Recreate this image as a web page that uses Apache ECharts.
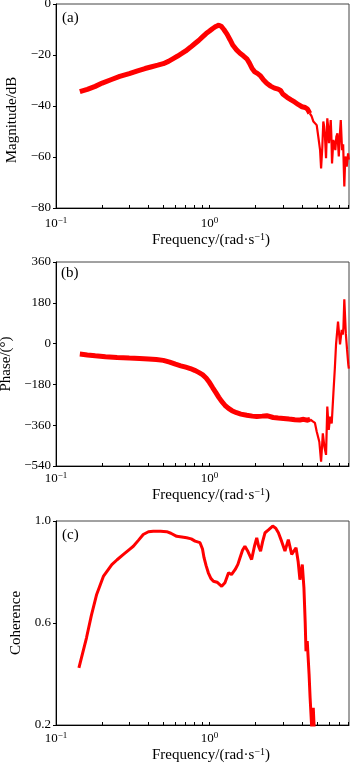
<!DOCTYPE html>
<html><head><meta charset="utf-8">
<script src="https://cdn.jsdelivr.net/npm/echarts@6/dist/echarts.min.js"></script>
<style>html,body{margin:0;padding:0;background:#fff}#c{width:350px;height:766px}</style>
</head><body><div id="c"></div>
<script>
// ---------- data ----------
const xTickValues = [0.1,0.2,0.3,0.4,0.5,0.6,0.7,0.8,0.9,1,2,3,4,5,6,7,8];
const xLabelValues = [0.1, 1];

// (a) magnitude
const magFreqSmooth = [0.143,0.16,0.18,0.20,0.23,0.26,0.30,0.34,0.38,0.42,0.46,0.50,0.54,0.58,0.62,0.66,0.70,0.75,0.80,0.85,0.90,0.95,1.00,1.05,1.10,1.15,1.19,1.24,1.30,1.36,1.42,1.50,1.58,1.66,1.75,1.82,1.90,1.97,2.05,2.15,2.25,2.36,2.50,2.65,2.80,2.90,3.00,3.20,3.40,3.60,3.80,4.00,4.20,4.35,4.50];
const magSmooth = [-34.4,-33.5,-32.3,-31.0,-29.6,-28.4,-27.3,-26.2,-25.3,-24.6,-24.0,-23.4,-22.5,-21.4,-20.4,-19.4,-18.4,-17.0,-15.6,-14.3,-12.9,-11.6,-10.6,-9.6,-8.8,-8.3,-8.7,-10.0,-11.8,-14.0,-16.2,-18.0,-19.3,-20.3,-21.5,-23.2,-25.4,-26.6,-27.2,-28.2,-29.8,-31.1,-32.2,-33.0,-33.4,-33.9,-35.3,-36.6,-37.6,-38.5,-39.5,-40.3,-40.6,-41.2,-42.9];
const magFreqNoisy = [4.50,4.62,4.75,4.88,4.99,5.11,5.25,5.33,5.43,5.51,5.58,5.65,5.74,5.85,5.92,6.00,6.08,6.16,6.22,6.28,6.41,6.50,6.60,6.70,6.81,6.95,7.05,7.16,7.30,7.42,7.55,7.64,7.72,7.83,7.99,8.08];
const magNoisy = [-42.9,-44.0,-46.1,-46.5,-47.5,-52,-57.3,-64.5,-56,-46.1,-48,-52,-60.5,-44.8,-48,-54.6,-50,-45.5,-52,-62.5,-53.3,-55,-57.3,-52,-50.7,-59.8,-52,-45.5,-57.3,-55,-71.6,-62,-59.8,-63.8,-58.6,-61];

// (b) phase
const phaseFreqSmooth = [0.143,0.16,0.18,0.21,0.25,0.30,0.35,0.40,0.45,0.50,0.55,0.60,0.65,0.70,0.75,0.80,0.85,0.90,0.95,1.00,1.05,1.10,1.15,1.20,1.26,1.33,1.40,1.50,1.60,1.75,1.90,2.03,2.20,2.36,2.60,2.80,3.03,3.30,3.60,3.88,4.10,4.30,4.52];
const phaseSmooth = [-46,-50,-54,-58,-61,-64,-66,-68,-70,-74,-82,-91,-98,-104,-110,-118,-127,-137,-152,-172,-195,-216,-237,-255,-272,-286,-296,-305,-311,-316,-320,-322,-320,-318,-326,-328,-330,-333,-336,-337,-334,-338,-334];
const phaseFreqNoisy = [4.52,4.68,4.86,4.99,5.19,5.33,5.47,5.60,5.74,5.85,5.98,6.10,6.25,6.41,6.55,6.67,6.87,7.08,7.26,7.38,7.45,7.55,7.72,7.87,8.02,8.08];
const phaseNoisy = [-334,-342,-350,-388,-433,-521,-396,-455,-491,-278,-381,-322,-352,-219,-110,-3,97,-3,60,40,70,195,45,-28,-94,-110];

// (c) coherence
const cohFreq = [0.141,0.158,0.17,0.184,0.204,0.231,0.25,0.275,0.30,0.319,0.345,0.37,0.40,0.43,0.48,0.526,0.56,0.611,0.66,0.71,0.76,0.805,0.867,0.90,0.921,0.95,0.982,1.02,1.06,1.12,1.20,1.26,1.33,1.39,1.47,1.53,1.58,1.64,1.70,1.78,1.88,1.96,2.03,2.09,2.15,2.22,2.30,2.42,2.58,2.70,2.81,2.95,3.10,3.26,3.43,3.66,3.78,3.88,4.02,4.12,4.20,4.25,4.33,4.45,4.52,4.63,4.74,4.81];
const cohVals = [0.424,0.542,0.63,0.712,0.784,0.829,0.848,0.869,0.888,0.901,0.925,0.947,0.958,0.96,0.96,0.958,0.952,0.94,0.937,0.934,0.93,0.921,0.915,0.89,0.856,0.825,0.797,0.775,0.764,0.76,0.744,0.758,0.797,0.79,0.81,0.83,0.856,0.885,0.901,0.88,0.849,0.9,0.934,0.9,0.882,0.92,0.954,0.965,0.98,0.972,0.954,0.92,0.882,0.927,0.869,0.895,0.84,0.77,0.829,0.738,0.60,0.489,0.529,0.40,0.307,0.19,0.267,0.18];

// ---------- chart ----------
const FONT = '"Liberation Serif","Times New Roman",serif';
const RED = '#ff0000';
const zip = (a, b) => a.map((v, i) => [v, b[i]]);
const minus = s => String(s).replace('-', '\u2212');

const grids = [4, 262, 521].map(t => ({left: 56, width: 293, top: t, height: 204,
  show: true, borderColor: '#444', borderWidth: 1, containLabel: false, outerBoundsMode: 'none'}));

function xAxis(i, labelMargin, nameGap) {
  return {
    type: 'log', logBase: 10, gridIndex: i, min: 0.1, max: 8.1, position: 'bottom',
    axisLine: {show: true, onZero: false, lineStyle: {color: '#000', width: 1}},
    axisTick: {show: true, inside: true, length: 3, customValues: xTickValues, lineStyle: {color: '#000', width: 1}},
    axisLabel: {
      customValues: xLabelValues, margin: labelMargin, color: '#000', fontFamily: FONT, fontSize: 13, lineHeight: 15,
      formatter: v => {
        const e = Math.log10(v), r = Math.round(e);
        if (Math.abs(e - r) > 0.01) return '';
        return '10{s|' + minus(r) + '}';
      },
      rich: {s: {fontSize: 9, verticalAlign: 'top', lineHeight: 9, fontFamily: FONT, color: '#000'}}
    },
    splitLine: {show: false},
    name: 'Frequency/(rad\u00b7s{s|\u22121})', nameLocation: 'middle', nameGap: nameGap,
    nameTextStyle: {fontSize: 15, fontFamily: FONT, color: '#000', lineHeight: 17, padding: [0, 0, 0, 17],
      rich: {s: {fontSize: 10, verticalAlign: 'top', lineHeight: 10, fontFamily: FONT, color: '#000'}}}
  };
}
function yAxis(i, o) {
  return Object.assign({
    type: 'value', gridIndex: i, position: 'left',
    axisLine: {show: true, onZero: false, lineStyle: {color: '#000', width: 1}},
    axisTick: {show: true, inside: false, length: 3, lineStyle: {color: '#000', width: 1}},
    axisLabel: {margin: 5, color: '#000', fontFamily: FONT, fontSize: 13, formatter: v => minus(v)},
    splitLine: {show: false},
    nameLocation: 'middle', nameRotate: 90
  }, o);
}
const lineS = (i, data, w) => ({type: 'line', xAxisIndex: i, yAxisIndex: i, data: data, showSymbol: false,
  symbol: 'none', clip: true, lineStyle: {color: RED, width: w}, itemStyle: {color: RED}, silent: true, z: 3});

const option = {
  animation: false,
  backgroundColor: '#fff',
  title: [
    {text: '(a)', left: 62, top: 11, padding: 0, textStyle: {fontSize: 15, fontWeight: 'normal', fontFamily: FONT, color: '#000'}},
    {text: '(b)', left: 61, top: 266, padding: 0, textStyle: {fontSize: 15, fontWeight: 'normal', fontFamily: FONT, color: '#000'}},
    {text: '(c)', left: 62, top: 528, padding: 0, textStyle: {fontSize: 15, fontWeight: 'normal', fontFamily: FONT, color: '#000'}}
  ],
  grid: grids,
  xAxis: [xAxis(0, 8, 24), xAxis(1, 5, 16), xAxis(2, 6, 22)],
  yAxis: [
    yAxis(0, {min: -80, max: 0, interval: 20, name: 'Magnitude/dB', nameGap: 35,
      nameTextStyle: {fontSize: 15, fontFamily: FONT, color: '#000', padding: [0, 28, 0, 0]}}),
    yAxis(1, {min: -540, max: 360, interval: 180, name: 'Phase/(\u00b0)', nameGap: 41,
      nameTextStyle: {fontSize: 15, fontFamily: FONT, color: '#000'}}),
    yAxis(2, {min: 0.2, max: 1.0, interval: 0.2, name: 'Coherence', nameGap: 28,
      axisTick: {show: true, inside: false, length: 3, customValues: [0.2, 0.6, 1.0], lineStyle: {color: '#000', width: 1}},
      axisLabel: {margin: 5, color: '#000', fontFamily: FONT, fontSize: 13, customValues: [0.2, 0.6, 1.0], formatter: v => v.toFixed(1)},
      nameTextStyle: {fontSize: 15, fontFamily: FONT, color: '#000'}})
  ],
  series: [
    lineS(0, zip(magFreqSmooth, magSmooth), 5),
    lineS(0, zip(magFreqNoisy, magNoisy), 2.2),
    lineS(1, zip(phaseFreqSmooth, phaseSmooth), 5),
    lineS(1, zip(phaseFreqNoisy, phaseNoisy), 2.2),
    lineS(2, zip(cohFreq, cohVals), 3)
  ]
};
const chart = echarts.init(document.getElementById('c'), null, {renderer: 'canvas'});
chart.setOption(option);
</script></body></html>
